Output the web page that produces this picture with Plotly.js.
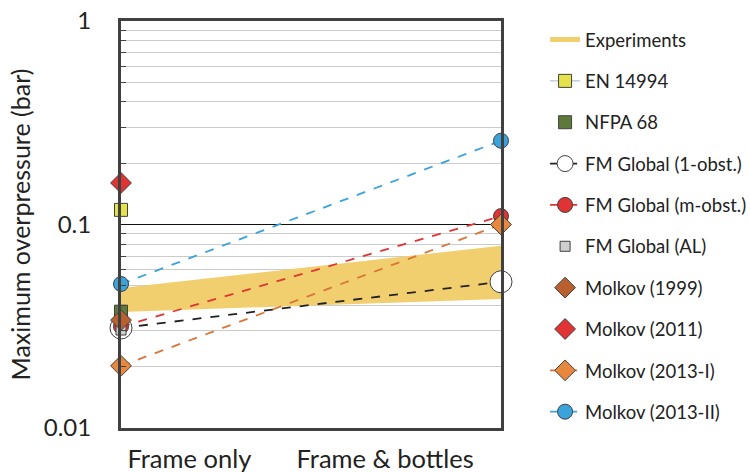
<!DOCTYPE html>
<html>
<head>
<meta charset="utf-8">
<script src="https://cdn.plot.ly/plotly-3.0.1.min.js"></script>
<style>html,body{margin:0;padding:0;background:#fff;}#chart{width:750px;height:472px;}</style>
</head>
<body>
<div id="chart"></div>
<script>
// ---- data ----
var categories = ["Frame only", "Frame & bottles"];
var xPos = [0, 1];
var expLow = [0.0372, 0.043];
var expHigh = [0.0487, 0.0787];
var en14994 = [0.118];
var nfpa68 = [0.0373];
var fmGlobal1 = [0.031, 0.0523];
var fmGlobalM = [0.0315, 0.110];
var fmGlobalAL = [0.0303];
var molkov1999 = [0.0339];
var molkov2011 = [0.160];
var molkov2013I = [0.0202, 0.100];
var molkov2013II = [0.051, 0.258];

var FONT = "Lato, 'Open Sans', sans-serif";
var EDGE = "#404040";

function pts(vals, name, sym, size, color, lineStyle, showLine) {
  return {
    x: xPos.slice(0, vals.length), y: vals, name: name, type: "scatter",
    mode: showLine ? "lines+markers" : "markers",
    line: lineStyle || {width: 0},
    marker: {symbol: sym, size: size, color: color, line: {color: EDGE, width: 1}},
    cliponaxis: false, legendgroup: name
  };
}

var traces = [
  {x: xPos, y: expLow, type: "scatter", mode: "lines", line: {width: 0, color: "#F2CF6E"}, showlegend: false, hoverinfo: "skip"},
  {x: xPos, y: expHigh, type: "scatter", mode: "lines", fill: "tonexty", fillcolor: "#F2CF6E", line: {width: 0, color: "#F2CF6E"}, showlegend: false, hoverinfo: "skip"},
  {x: [null], y: [null], type: "scatter", mode: "lines", name: "Experiments", line: {color: "#F2CF6E", width: 5}, legendgroup: "Experiments"},
  pts(en14994, "EN 14994", "square", 13, "#E6E24A", {color: "#9DB6DD", width: 1}, true),
  pts(nfpa68, "NFPA 68", "square", 13, "#5E7A3A", null, false),
  pts(fmGlobal1, "FM Global (1-obst.)", "circle", 22, "#FFFFFF", {color: "#222222", width: 1.8, dash: "dash"}, true),
  pts(fmGlobalM, "FM Global (m-obst.)", "circle", 15, "#E03434", {color: "#E03434", width: 1.8, dash: "dash"}, true),
  pts(fmGlobalAL, "FM Global (AL)", "square", 10, "#CFCFCF", null, false),
  pts(molkov1999, "Molkov (1999)", "diamond", 16, "#B8602E", null, false),
  pts(molkov2011, "Molkov (2011)", "diamond", 16, "#E03434", null, false),
  pts(molkov2013I, "Molkov (2013-I)", "diamond", 16, "#E8883E", {color: "#D8763A", width: 1.8, dash: "dash"}, true),
  pts(molkov2013II, "Molkov (2013-II)", "circle", 15, "#3AA3DA", {color: "#3AA3DA", width: 1.8, dash: "dash"}, true)
];

var layout = {
  width: 750, height: 472,
  margin: {l: 121, r: 249, t: 21, b: 44, pad: 0, autoexpand: false},
  paper_bgcolor: "#fff", plot_bgcolor: "#fff",
  font: {family: FONT, color: "#222"},
  showlegend: true,
  legend: {x: 1.116, y: 1.0, xanchor: "left", yanchor: "top", font: {family: FONT, size: 18.5, color: "#222"},
           tracegroupgap: 14.3, itemwidth: 30, bgcolor: "rgba(0,0,0,0)"},
  xaxis: {
    range: [0, 1], showgrid: false, zeroline: false,
    showline: true, mirror: true, linecolor: EDGE, linewidth: 3,
    tickmode: "array", tickvals: [0.18, 0.695], ticktext: categories,
    ticks: "", tickfont: {family: FONT, size: 25.5, color: "#222"}, ticklabelstandoff: 6
  },
  yaxis: {
    type: "log", range: [-2, 0], dtick: 1,
    showline: true, mirror: true, linecolor: EDGE, linewidth: 3,
    showgrid: true, gridcolor: "#111", gridwidth: 1.5, zeroline: false,
    ticks: "", tickfont: {family: FONT, size: 24, color: "#222"}, ticklabelstandoff: 22,
    minor: {dtick: "D1", showgrid: true, gridcolor: "#CCCCCC", gridwidth: 1, ticks: "inside", ticklen: 5, tickcolor: EDGE},
    title: {text: "Maximum overpressure (bar)", font: {family: FONT, size: 25, color: "#222"}, standoff: 7}
  }
};

Plotly.newPlot("chart", traces, layout, {staticPlot: true, displayModeBar: false});
</script>
</body>
</html>
